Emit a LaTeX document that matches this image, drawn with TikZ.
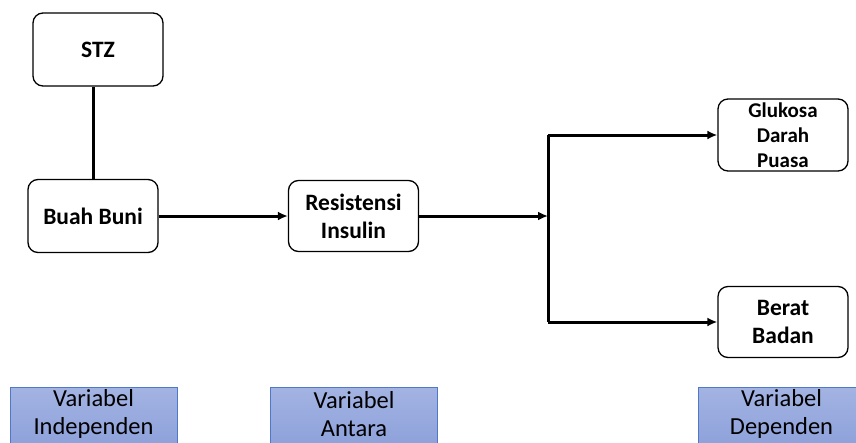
\documentclass[tikz,border=0pt]{standalone}
\usepackage{fontspec}
\setmainfont{Carlito}
\usetikzlibrary{arrows.meta}
\definecolor{varfillA}{RGB}{163,179,226}
\definecolor{varfillB}{RGB}{140,160,218}
\definecolor{varline}{RGB}{80,120,200}
\tikzset{
  box/.style={draw=black, line width=1.3pt, rounded corners=10pt, fill=white,
    minimum width=130pt, align=center, font=\fontsize{23.5}{28}\selectfont\bfseries, inner sep=1pt},
  varbox/.style={draw=varline, line width=1pt, top color=varfillA, bottom color=varfillB,
    minimum width=167pt, minimum height=62pt, inner sep=0pt},
  vartext/.style={align=center, font=\fontsize{24.5}{28}\selectfont, inner sep=0pt},
  conn/.style={line width=3pt, black},
  arr/.style={conn, -{Latex[length=10pt,width=9pt]}}
}
\begin{document}
\begin{tikzpicture}[x=1pt,y=-1pt]
\useasboundingbox (0,0) rectangle (856,442);
\clip (0,0) rectangle (856,442);
\node[box, minimum height=73pt] (stz) at (98,49.5) {STZ};
\node[box, minimum height=73pt] (buah) at (93,216) {Buah Buni};
\node[box, minimum height=71pt] (res) at (353.5,216) {Resistensi\\Insulin};
\node[box, minimum height=72pt, font=\fontsize{21}{25}\selectfont\bfseries] (glu) at (783,135) {Glukosa\\Darah\\Puasa};
\node[box, minimum height=71pt] (ber) at (783,322) {Berat\\Badan};
\coordinate (split) at (548,216);
\draw[conn] (buah.north) -- (buah.north |- stz.south);
\draw[arr] (buah.east) -- (res.west);
\draw[arr] (res.east) -- (split);
\draw[conn] (split |- glu.west) -- (split |- ber.west);
\draw[arr] (split |- glu.west) -- (glu.west);
\draw[arr] (split |- ber.west) -- (ber.west);
\node[varbox] (v1) at (93.5,418) {};
\node[varbox] (v2) at (354,418) {};
\node[varbox] (v3) at (781.5,418) {};
\node[vartext] (v1t) at (93.5,414) {Variabel\\Independen};
\node[vartext] (v2t) at (354,414) {Variabel\\Antara};
\node[vartext] (v3t) at (781.5,414) {Variabel\\Dependen};
\end{tikzpicture}
\end{document}
